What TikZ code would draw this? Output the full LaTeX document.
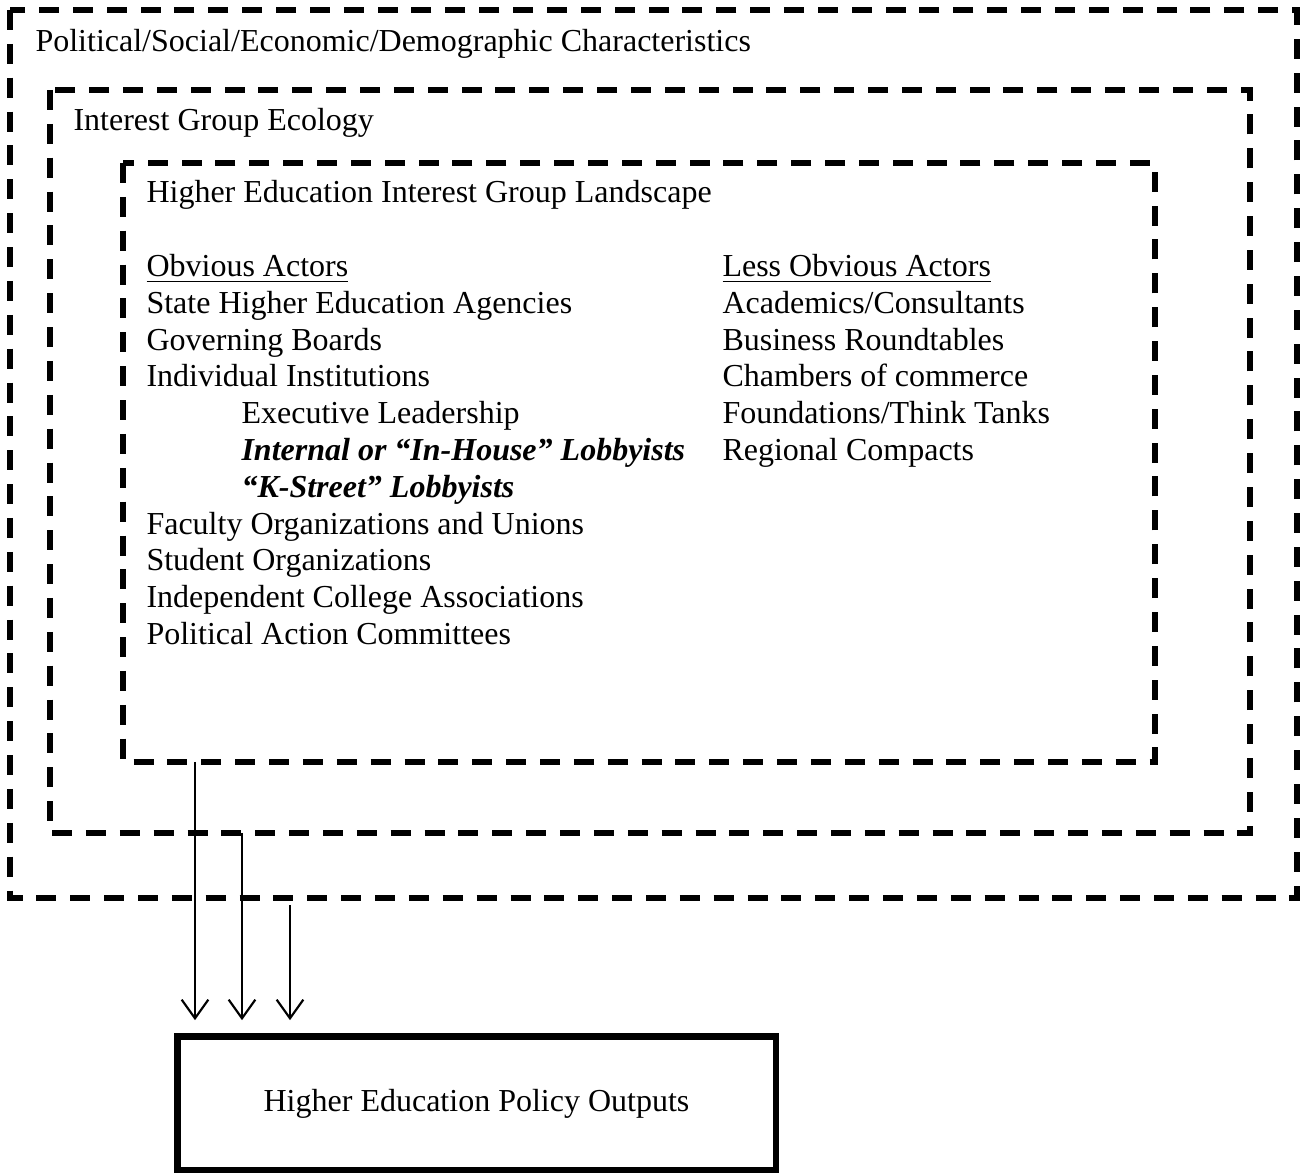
\documentclass[tikz,border=0pt]{standalone}
\usepackage{fontspec}
\setmainfont{Liberation Serif}
\usetikzlibrary{arrows.meta}

\tikzset{
  dashbox/.style={black, line width=1.9pt, dash pattern=on 7.5pt off 5.2pt},
  lbl/.style={anchor=base west, inner sep=0pt, font=\fontsize{12}{14}\selectfont},
  flow/.style={black, line width=0.8pt, -{Straight Barb[length=7pt,width=10pt]}},
}

\begin{document}
\begin{tikzpicture}[x=0.375pt, y=-0.375pt]
\useasboundingbox (0,0) rectangle (1302,1173);
% nested contexts
\draw[dashbox] (10,10) rectangle (1297,898);
\draw[dashbox] (50,90) rectangle (1250,833);
\draw[dashbox] (123,163) rectangle (1155,762);
\node[lbl] (pol) at (35,52) {Political/Social/Economic/Demographic Characteristics};
\node[lbl] (eco) at (73,131) {Interest Group Ecology};
\node[lbl] (land) at (146,203) {Higher Education Interest Group Landscape};
% obvious actors
\node[lbl] (obv) at (146,277) {\underline{Obvious Actors}};
\node[lbl] (shea) at (146,314) {State Higher Education Agencies};
\node[lbl] (gov) at (146,351) {Governing Boards};
\node[lbl] (inst) at (146,387) {Individual Institutions};
\node[lbl] (exec) at (241,424) {Executive Leadership};
\node[lbl] (inh) at (241,461) {\textbf{\textit{Internal or “In-House” Lobbyists}}};
\node[lbl] (kst) at (241,498) {\textbf{\textit{“K-Street” Lobbyists}}};
\node[lbl] (fac) at (146,535) {Faculty Organizations and Unions};
\node[lbl] (stu) at (146,571) {Student Organizations};
\node[lbl] (ind) at (146,608) {Independent College Associations};
\node[lbl] (pac) at (146,645) {Political Action Committees};
% less obvious actors
\node[lbl] (less) at (722,277) {\underline{Less Obvious Actors}};
\node[lbl] (acad) at (722,314) {Academics/Consultants};
\node[lbl] (bus) at (722,351) {Business Roundtables};
\node[lbl] (cham) at (722,387) {Chambers of commerce};
\node[lbl] (fnd) at (722,424) {Foundations/Think Tanks};
\node[lbl] (reg) at (722,461) {Regional Compacts};
% outputs
\node[draw, line width=2.6pt, minimum width=224.6pt, minimum height=49.9pt,
  font=\fontsize{12}{14}\selectfont] (out) at (476.5,1103.5) {Higher Education Policy Outputs};
\coordinate (a1) at (195,762);
\coordinate (a2) at (242,833);
\coordinate (a3) at (290,905);
\draw[flow] (a1) -- ([yshift=5pt]a1 |- out.north);
\draw[flow] (a2) -- ([yshift=5pt]a2 |- out.north);
\draw[flow] (a3) -- ([yshift=5pt]a3 |- out.north);
\end{tikzpicture}
\end{document}
